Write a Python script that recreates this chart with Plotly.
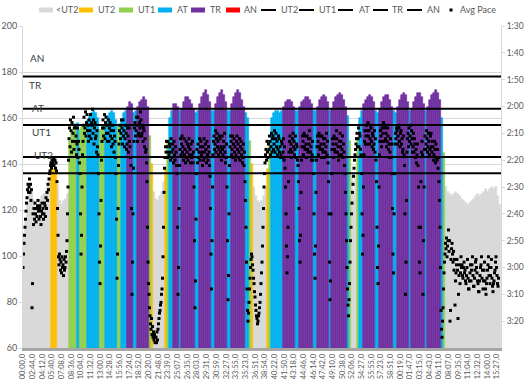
import plotly.graph_objects as go

# ---------------- data ----------------
tick_labels = ["00:00,0", "02:44,0", "04:12,0", "05:40,0", "07:08,0", "08:36,0", "10:04,0", "11:32,0",
               "13:00,0", "14:28,0", "15:56,0", "17:24,0", "18:52,0", "20:20,0", "21:48,0", "23:39,0",
               "25:07,0", "26:35,0", "28:03,0", "29:31,0", "30:59,0", "32:27,0", "33:55,0", "35:23,0",
               "36:51,0", "38:54,0", "40:22,0", "41:50,0", "43:18,0", "44:46,0", "46:14,0", "47:42,0",
               "49:10,0", "50:38,0", "52:06,0", "54:27,0", "55:55,0", "57:23,0", "58:51,0", "00:19,0",
               "01:47,0", "03:15,0", "04:43,0", "06:11,0", "08:07,0", "09:35,0", "11:04,0", "12:32,0",
               "14:00,0", "15:27,0"]
TICK_EVERY = 88          # rows between category labels
N_ROWS = 4350            # number of data rows

zone_names = ["<UT2", "UT2", "UT1", "AT", "TR", "AN"]
zone_colors = ["#D9D9D9", "#FFC000", "#92D050", "#00B0F0", "#7030A0", "#FF0000"]
line_names = ["UT2", "UT1", "AT", "TR", "AN"]
line_values = [136, 143, 157, 164, 178]
label_hr = [144, 154, 164.5, 174.5, 186]
label_row = [182, 164, 141, 118, 127]

# heart rate, sampled every HR_STEP rows
hr_values = [
    108, 116, 123, 129, 128, 124, 120, 121, 124, 126, 127, 127, 130, 134, 137, 138, 138, 131, 124, 122,
    124, 125, 127, 150, 154, 156, 156, 158, 155, 156, 156, 156, 159, 161, 162, 163, 162, 160, 155, 155,
    156, 158, 161, 162, 163, 162, 159, 156, 156, 159, 162, 163, 165, 167, 166, 162, 163, 165, 167, 168,
    169, 168, 165, 152, 140, 128, 125, 124, 126, 128, 132, 138, 150, 160, 163, 166, 166, 165, 163, 164,
    167, 169, 169, 168, 166, 164, 162, 163, 166, 169, 171, 172, 170, 167, 163, 163, 166, 169, 171, 172,
    170, 167, 163, 163, 166, 169, 171, 172, 171, 168, 165, 162, 160, 150, 140, 130, 126, 124, 123, 124,
    126, 130, 138, 150, 160, 162, 163, 163, 162, 163, 165, 167, 168, 168, 167, 165, 163, 163, 165, 167,
    168, 169, 169, 168, 166, 163, 163, 165, 168, 169, 170, 169, 167, 163, 164, 167, 169, 170, 171, 170,
    168, 165, 161, 150, 135, 128, 135, 150, 160, 163, 166, 168, 169, 170, 169, 167, 163, 162, 164, 167,
    169, 170, 170, 168, 165, 163, 162, 165, 168, 170, 171, 170, 167, 163, 164, 167, 169, 171, 171, 169,
    166, 163, 165, 168, 170, 171, 172, 171, 168, 160, 145, 130, 128, 127, 126, 127, 128, 127, 126, 125,
    124, 123, 122, 123, 124, 125, 126, 127, 126, 127, 128, 129, 128, 129, 130, 129, 130, 126, 122,
]
HR_STEP = N_ROWS / len(hr_values)

# average pace in seconds per 500 m, sampled every PACE_STEP rows
pace_values = [
    180, 175, 171, 168, 165, 162, 159, 156, 154, 151, 149, 152, 150, 147, 152, 149, 155, 151, 195, 186,
    160, 164, 158, 162, 156, 160, 163, 158, 161, 157, 155, 159, 162, 158, 157, 161, 164, 159, 156, 160,
    158, 162, 160, 156, 157, 161, 154, 158, 152, 155, 149, 151, 147, 145, 144, 142, 141, 143, 140, 142,
    141, 139, 142, 140, 140, 143, 141, 144, 148, 158, 168, 176, 179, 175, 177, 181, 178, 182, 176, 180,
    179, 183, 177, 181, 180, 176, 178, 174, 170, 160, 150, 140, 132, 128, 135, 125, 129, 137, 126, 133,
    130, 124, 136, 128, 127, 133, 131, 138, 134, 128, 139, 133, 136, 141, 145, 160, 175, 168, 150, 138,
    133, 127, 124, 130, 128, 122, 131, 126, 123, 129, 127, 133, 125, 131, 129, 123, 132, 126, 127, 121,
    130, 125, 134, 128, 126, 132, 131, 137, 129, 135, 138, 145, 160, 178, 186, 172, 155, 140, 133, 128,
    125, 131, 128, 123, 132, 126, 124, 130, 127, 133, 130, 125, 133, 128, 126, 131, 129, 135, 132, 127,
    134, 129, 137, 131, 133, 139, 145, 162, 184, 175, 158, 142, 134, 129, 127, 132, 130, 125, 128, 134,
    125, 131, 129, 135, 132, 127, 130, 136, 134, 128, 131, 137, 128, 133, 135, 139, 142, 158, 190, 178,
    160, 143, 133, 128, 126, 131, 129, 124, 127, 133, 124, 130, 131, 126, 128, 122, 125, 131, 130, 127,
    133, 128, 129, 135, 132, 137, 136, 141, 148, 165, 178, 186, 190, 195, 198, 201, 203, 199, 205, 202,
    206, 204, 207, 205, 208, 206, 206, 208, 204, 207, 203, 201, 199, 197, 196, 194, 193, 190, 188, 184,
    176, 165, 152, 143, 139, 135, 137, 133, 135, 139, 133, 137, 138, 134, 135, 140, 132, 137, 139, 134,
    136, 141, 133, 138, 140, 135, 137, 142, 145, 165, 190, 180, 158, 142, 136, 132, 138, 134, 131, 137,
    135, 140, 132, 138, 136, 141, 133, 139, 137, 134, 140, 135, 132, 138, 136, 141, 134, 139, 138, 133,
    141, 137, 150, 170, 195, 185, 162, 145, 136, 141, 134, 139, 137, 132, 140, 135, 133, 138, 137, 142,
    135, 140, 132, 137, 139, 134, 136, 141, 133, 138, 140, 135, 137, 142, 146, 158, 175, 188, 170, 150,
    138, 133, 131, 136, 134, 129, 137, 132, 130, 135, 133, 138, 136, 131, 132, 137, 135, 140, 131, 136,
    138, 133, 135, 130, 137, 141, 139, 134, 150, 170, 192, 183, 160, 142, 135, 131, 133, 138, 136, 131,
    139, 134, 132, 137, 135, 140, 138, 133, 131, 136, 134, 139, 137, 132, 140, 135, 133, 138, 136, 141,
    139, 134, 142, 137, 148, 155, 165, 178, 188, 196, 200, 197, 193, 188, 184, 180, 177, 175, 176, 179,
    181, 184, 186, 189, 191, 194, 196, 198, 199, 201, 200, 198, 197, 195, 193, 190, 186, 182, 178, 172,
    165, 158, 150, 145, 141, 138, 136, 140, 133, 137, 139, 134, 136, 131, 133, 138, 135, 130, 137, 132,
    131, 136, 134, 129, 137, 132, 130, 135, 133, 138, 136, 131, 132, 137, 135, 139, 138, 133, 134, 139,
    137, 132, 140, 135, 143, 150, 160, 172, 182, 176, 165, 148, 137, 133, 131, 136, 134, 139, 137, 132,
    130, 135, 133, 138, 136, 131, 139, 134, 135, 140, 142, 148, 158, 170, 178, 168, 152, 140, 135, 131,
    133, 138, 130, 135, 136, 131, 134, 139, 131, 136, 137, 132, 134, 129, 132, 137, 135, 140, 138, 133,
    140, 145, 160, 175, 184, 172, 152, 140, 135, 131, 133, 138, 130, 135, 136, 131, 134, 139, 131, 136,
    137, 132, 134, 139, 132, 137, 135, 130, 138, 133, 141, 148, 160, 178, 192, 185, 160, 145, 136, 132,
    134, 139, 131, 136, 137, 132, 134, 129, 132, 137, 135, 140, 138, 133, 130, 135, 133, 138, 136, 131,
    139, 134, 137, 142, 145, 152, 160, 170, 180, 188, 194, 198, 192, 186, 178, 170, 165, 160, 156, 152,
    149, 146, 143, 140, 138, 136, 134, 132, 130, 135, 132, 128, 135, 130, 131, 136, 138, 145, 160, 175,
    168, 150, 138, 133, 129, 134, 131, 127, 134, 129, 126, 131, 129, 134, 132, 127, 128, 133, 135, 130,
    131, 136, 134, 129, 137, 132, 140, 148, 165, 180, 186, 172, 150, 138, 133, 129, 131, 135, 128, 133,
    130, 126, 133, 128, 127, 132, 130, 135, 133, 128, 131, 136, 134, 139, 137, 132, 139, 134, 145, 158,
    175, 182, 160, 145, 134, 130, 132, 128, 129, 134, 131, 127, 128, 133, 135, 130, 129, 134, 132, 137,
    136, 131, 138, 142, 160, 190, 178, 155, 137, 132, 130, 135, 128, 133, 131, 127, 134, 129, 132, 137,
    135, 130, 137, 132, 134, 139, 136, 141, 138, 134, 142, 150, 165, 178, 182, 165, 148, 137, 133, 138,
    190, 170, 150, 136, 131, 136, 134, 129, 132, 137, 135, 130, 133, 138, 136, 131, 130, 135, 137, 133,
    135, 140, 138, 133, 136, 141, 134, 139, 140, 136, 143, 139, 148, 155, 165, 180, 196, 203, 206, 200,
    195, 188, 182, 178, 175, 171, 173, 169, 176, 172, 170, 166, 174, 170, 200, 196, 177, 173, 171, 175,
    178, 174, 181, 177, 194, 185, 182, 179, 177, 181, 199, 190, 183, 179, 186, 182, 176, 180, 179, 183,
    184, 180, 178, 182, 181, 185, 186, 183, 180, 177, 184, 188, 188, 185, 182, 179, 185, 181, 179, 176,
    183, 187, 187, 184, 181, 178, 177, 180, 182, 185, 186, 189, 189, 185, 183, 180, 179, 176, 184, 181,
    188, 185, 181, 178, 185, 188, 190, 186, 184, 181, 179, 176, 183, 180, 186, 183, 180, 177, 184, 187,
    189, 186, 185, 182, 181, 178, 176, 180, 183, 186, 187, 184, None, None, None, None,
]
PACE_STEP = N_ROWS / len(pace_values)

pace_ticks = list(range(90, 210, 10))

# ---------------- figure ----------------
FONT = "Lato, 'Liberation Sans', Arial, sans-serif"
TXT = "#595959"
W, H = 526, 380
ML, MR, MT, MB = 23, 25, 26, 32
PW, PH = W - ML - MR, H - MT - MB


def zone_of(v):
    z = 0
    for k, t in enumerate(line_values):
        if v >= t:
            z = k + 1
    return z


hr_x = [(i + 0.5) * HR_STEP for i in range(len(hr_values))]
hr_zone = [zone_of(v) for v in hr_values]

fig = go.Figure()
for z, (name, col) in enumerate(zip(zone_names, zone_colors)):
    ys = [v if hr_zone[i] == z else None for i, v in enumerate(hr_values)]
    fig.add_trace(go.Bar(x=hr_x, y=ys, width=HR_STEP, name=name, marker_color=col,
                         marker_line=dict(color=col, width=0.6), yaxis="y", showlegend=False))

for k, (name, v) in enumerate(zip(line_names, line_values)):
    fig.add_trace(go.Scatter(x=[0, N_ROWS], y=[v, v], mode="lines", name=name,
                             line=dict(color="black", width=2), yaxis="y", showlegend=False))

pace_x = [i * PACE_STEP for i in range(len(pace_values))]
fig.add_trace(go.Scatter(x=pace_x, y=pace_values, mode="markers", name="Avg Pace",
                         marker=dict(color="black", size=3, symbol="square"), yaxis="y2",
                         showlegend=False))

for name, r, h in zip(line_names, label_row, label_hr):
    fig.add_annotation(x=r, y=h, xref="x", yref="y", text=name, showarrow=False,
                       font=dict(size=10, color="#404040", family=FONT))

# ---- compact one-row legend (Excel style), laid out in pixels ----
def px(x):
    return (x - ML) / PW


def py(y):
    return (H - MB - y) / PH


LEG_Y = 10
zone_key_left = [39, 79, 119, 158, 191, 226]
zone_key_text = [55, 97, 137, 176, 209, 243]
line_key_left = [261, 299, 338, 373, 407]
line_key_text = [280, 318, 358, 391, 426]
pace_key_x, pace_key_text = 451, 459

for name, col, x0, tx in zip(zone_names, zone_colors, zone_key_left, zone_key_text):
    fig.add_shape(type="rect", xref="paper", yref="paper", x0=px(x0), x1=px(x0 + 14),
                  y0=py(LEG_Y + 2.5), y1=py(LEG_Y - 2.5), fillcolor=col, line=dict(width=0))
    fig.add_annotation(x=px(tx - 1), y=py(LEG_Y), xref="paper", yref="paper", text=name,
                       showarrow=False, xanchor="left", yanchor="middle",
                       font=dict(size=9, color=TXT, family=FONT))
for name, x0, tx in zip(line_names, line_key_left, line_key_text):
    fig.add_shape(type="line", xref="paper", yref="paper", x0=px(x0), x1=px(x0 + 15),
                  y0=py(LEG_Y), y1=py(LEG_Y), line=dict(color="black", width=2))
    fig.add_annotation(x=px(tx - 1), y=py(LEG_Y), xref="paper", yref="paper", text=name,
                       showarrow=False, xanchor="left", yanchor="middle",
                       font=dict(size=9, color=TXT, family=FONT))
fig.add_shape(type="rect", xref="paper", yref="paper", x0=px(pace_key_x - 1.5),
              x1=px(pace_key_x + 1.5), y0=py(LEG_Y + 1.5), y1=py(LEG_Y - 1.5),
              fillcolor="black", line=dict(width=0))
fig.add_annotation(x=px(pace_key_text - 1), y=py(LEG_Y), xref="paper", yref="paper",
                   text="Avg Pace", showarrow=False, xanchor="left", yanchor="middle",
                   font=dict(size=9, color=TXT, family=FONT))


def fmt(s):
    return f"{s // 60}:{s % 60:02d}"


fig.update_layout(
    width=W, height=H,
    margin=dict(l=ML, r=MR, t=MT, b=MB, autoexpand=False),
    paper_bgcolor="white", plot_bgcolor="white",
    barmode="overlay", bargap=0,
    font=dict(family=FONT, size=9, color=TXT),
    showlegend=False,
    xaxis=dict(range=[0, N_ROWS], tickvals=[i * TICK_EVERY for i in range(len(tick_labels))],
               ticktext=tick_labels, tickangle=-90, tickfont=dict(size=7.5, color=TXT),
               showgrid=False, zeroline=False, showline=True, linecolor="#A6A6A6", linewidth=3,
               ticks="", automargin=False),
    yaxis=dict(range=[60, 200], dtick=20, showgrid=True, gridcolor="#D9D9D9", gridwidth=1,
               zeroline=False, showline=True, linecolor="#D9D9D9", ticks="outside", ticklen=3,
               tickcolor="#D9D9D9", tickfont=dict(size=9, color=TXT), automargin=False),
    yaxis2=dict(overlaying="y", side="right", range=[210, 90], tickvals=pace_ticks,
                ticktext=[fmt(s) for s in pace_ticks], showgrid=False, zeroline=False,
                showline=True, linecolor="#D9D9D9", ticks="outside", ticklen=3,
                tickcolor="#D9D9D9", tickfont=dict(size=8.5, color=TXT), automargin=False),
)

fig.write_html("out.html", config={"displayModeBar": False},
               post_script="document.body.style.margin='0';document.body.style.padding='0';")
